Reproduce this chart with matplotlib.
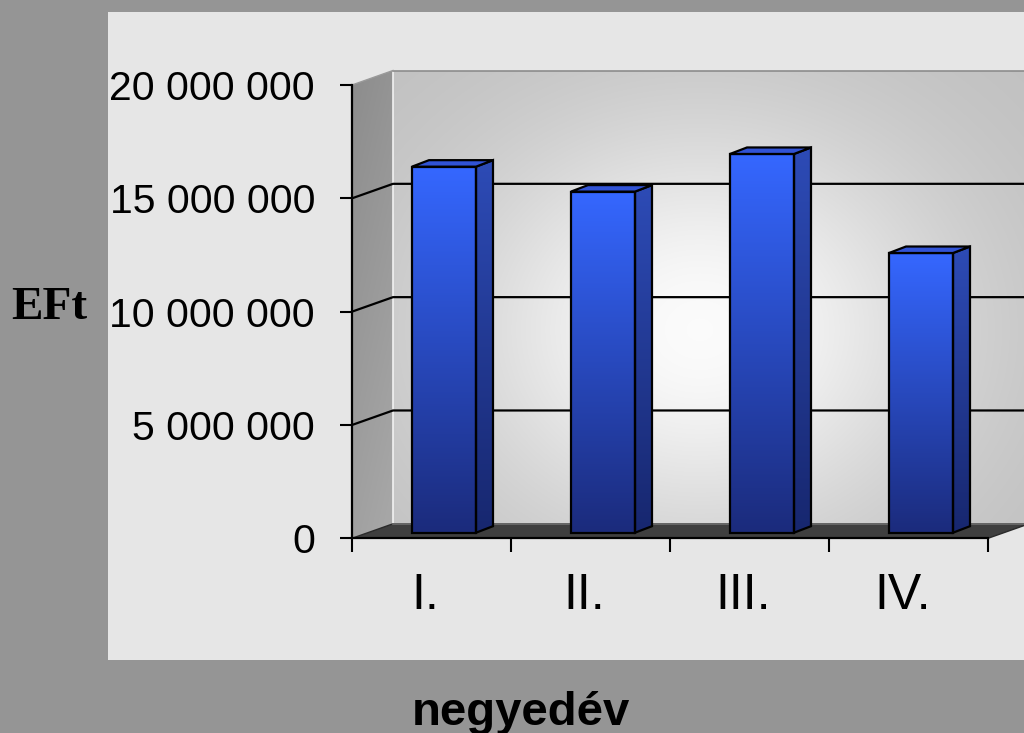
import numpy as np
import matplotlib
matplotlib.use('Agg')
import matplotlib.pyplot as plt
from matplotlib.patches import Polygon, Rectangle
from matplotlib.colors import to_rgb
from matplotlib.transforms import ScaledTranslation

# ---------------- data ----------------
categories = ['I.', 'II.', 'III.', 'IV.']
values = [16_150_000, 15_050_000, 16_710_000, 12_340_000]
yticks = [0, 5_000_000, 10_000_000, 15_000_000, 20_000_000]
ytick_labels = ['0', '5 000 000', '10 000 000', '15 000 000', '20 000 000']
y_label = 'EFt'
x_label = 'negyedév'

# ---------------- layout ----------------
W, H = 1024, 733
plt.rcParams['font.family'] = ['Liberation Sans', 'DejaVu Sans']
fig = plt.figure(figsize=(W / 100, H / 100), dpi=100, facecolor='#959595')
fig.add_artist(Rectangle((108 / W, (H - 660) / H), (W - 108) / W, 648 / H,
                         transform=fig.transFigure, facecolor='#e6e6e6',
                         edgecolor='none', zorder=-5))

AX_L, AX_R, AX_T, AX_B = 352, 988, 85, 538.3
ax = fig.add_axes([AX_L / W, (H - AX_B) / H, (AX_R - AX_L) / W, (AX_B - AX_T) / H])
ax.set_zorder(1)
ax.patch.set_visible(False)
YMAX = yticks[-1]
N = len(categories)

px_x = N / (AX_R - AX_L)
px_y = YMAX / (AX_B - AX_T)
DX, DY = 41 * px_x, 14.5 * px_y      # full depth of the 3D box
FX, FY = 12.5 * px_x, 5.6 * px_y     # bar front-face depth offset
BX, BY = 17 * px_x, 6.5 * px_y       # bar depth
BW = 64 * px_x                       # bar width


def gradient_fill(verts, img, extent, z):
    poly = Polygon(verts, closed=True, transform=ax.transData,
                   facecolor='none', edgecolor='none')
    im = ax.imshow(img, extent=extent, origin='lower', aspect='auto',
                   interpolation='bilinear', zorder=z)
    im.set_clip_box(fig.bbox)
    im.set_clip_path(poly)
    return im


def vgrad(c_bottom, c_top, n=128):
    cb, ct = np.array(to_rgb(c_bottom)), np.array(to_rgb(c_top))
    t = np.linspace(0, 1, n)[:, None]
    col = cb[None, :] * (1 - t) + ct[None, :] * t
    return col[:, None, :].repeat(2, axis=1)


# back wall (radial highlight)
nx, ny = 240, 240
xs = np.linspace(DX, N + DX, nx)
ys = np.linspace(DY, YMAX + DY, ny)
XX, YY = np.meshgrid(xs, ys)
PX = AX_L + XX / px_x
PY = AX_B - YY / px_y
f = np.exp(-(((PX - 700) / 250) ** 2 + ((PY - 330) / 210) ** 2))
g = 0.75 + 0.235 * f
back_img = np.dstack([g, g, g])
gradient_fill([(DX, DY), (N + DX, DY), (N + DX, YMAX + DY), (DX, YMAX + DY)],
              back_img, (DX, N + DX, DY, YMAX + DY), 0.5)
ax.plot([DX, N + DX], [YMAX + DY, YMAX + DY], color='#8c8c8c', lw=1.2,
        clip_on=False, zorder=2)

# left side wall
sxs = np.linspace(0, DX, 40)
sys_ = np.linspace(0, YMAX + DY, 200)
SX, SY = np.meshgrid(sxs, sys_)
sg = 0.63 - 0.08 * (SY / (YMAX + DY)) + 0.03 * (SX / DX)
side_img = np.dstack([sg, sg, sg])
gradient_fill([(0, 0), (DX, DY), (DX, YMAX + DY), (0, YMAX)],
              side_img, (0, DX, 0, YMAX + DY), 0.6)
ax.plot([DX, DX], [DY, YMAX + DY], color='#f2f2f2', lw=1.2, clip_on=False, zorder=0.9)
ax.plot([0, DX], [YMAX, YMAX + DY], color='#9a9a9a', lw=1.0, clip_on=False, zorder=2)

# floor
ax.add_patch(Polygon([(0, 0), (N, 0), (N + DX, DY), (DX, DY)], closed=True,
                     facecolor='#3f3f3f', edgecolor='#2a2a2a', lw=1.0,
                     clip_on=False, zorder=1))
ax.plot([DX, N + DX], [DY, DY], color='#707070', lw=1.2, clip_on=False, zorder=1.1)

# gridlines
for v in yticks[1:-1]:
    ax.plot([0, DX, N + DX], [v, v + DY, v + DY], color='black', lw=1.6,
            clip_on=False, zorder=2)

# bars
for i, v in enumerate(values):
    x0 = i + 0.5 - BW / 2 + FX
    xr = x0 + BW
    y0 = FY
    top = y0 + v
    gradient_fill([(x0, y0), (xr, y0), (xr, top), (x0, top)],
                  vgrad('#1b2b7c', '#3567ff'), (x0, xr, y0, top), 4)
    ax.add_patch(Rectangle((x0, y0), BW, v, facecolor='none', edgecolor='black',
                           lw=1.6, clip_on=False, zorder=5))
    side = [(xr, y0), (xr + BX, y0 + BY), (xr + BX, top + BY), (xr, top)]
    gradient_fill(side, vgrad('#17276f', '#2d4bb6'), (xr, xr + BX, y0, top + BY), 4)
    ax.add_patch(Polygon(side, closed=True, facecolor='none', edgecolor='black',
                         lw=1.6, clip_on=False, zorder=5))
    topf = [(x0, top), (xr, top), (xr + BX, top + BY), (x0 + BX, top + BY)]
    ax.add_patch(Polygon(topf, closed=True, facecolor='#3153d6', edgecolor='black',
                         lw=1.6, clip_on=False, zorder=5))

ax.set_xlim(0, N)
ax.set_ylim(0, YMAX)

# axes / ticks
for s in ['top', 'right']:
    ax.spines[s].set_visible(False)
for s in ['left', 'bottom']:
    ax.spines[s].set_linewidth(1.6)
    ax.spines[s].set_zorder(3)
ax.set_yticks(yticks)
ax.set_yticklabels(ytick_labels)
ax.tick_params(axis='y', length=8.6, width=1.5, direction='out', pad=18, labelsize=29.5)
ax.set_xticks(np.arange(N + 1))
ax.set_xticklabels([])
ax.set_xticks(np.arange(N) + 0.5, minor=True)
ax.set_xticklabels(categories, minor=True)
ax.tick_params(axis='x', which='major', length=10, width=1.5, direction='out')
ax.tick_params(axis='x', which='minor', length=0, pad=25, labelsize=36)
shift = ScaledTranslation(-6 / 100, 0, fig.dpi_scale_trans)
for lab in ax.get_xticklabels(minor=True):
    lab.set_transform(lab.get_transform() + shift)

fig.text(11 / W, (H - 319) / H, y_label, fontsize=34, fontweight='bold',
         family=['Liberation Serif', 'DejaVu Serif'], ha='left', va='baseline')
fig.text(520.5 / W, (H - 725) / H, x_label, fontsize=34, fontweight='bold',
         ha='center', va='baseline')

fig.savefig('out.png', dpi=100, facecolor=fig.get_facecolor())
